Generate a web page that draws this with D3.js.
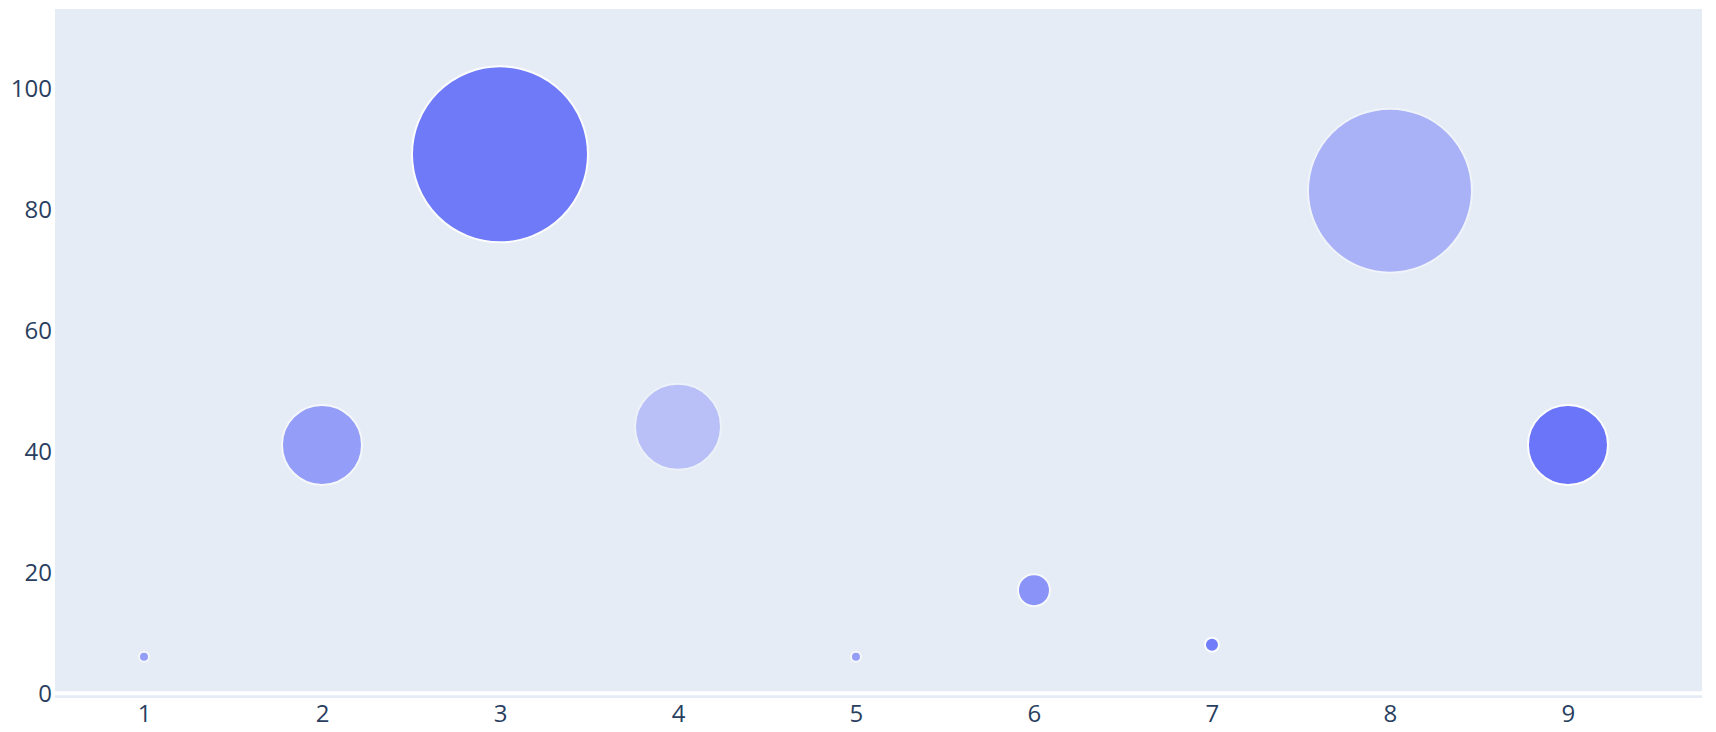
<!DOCTYPE html>
<html>
<head>
<meta charset="utf-8">
<script src="https://cdn.jsdelivr.net/npm/d3@7"></script>
<style>
  html, body { margin: 0; padding: 0; background: #ffffff; }
  svg { display: block; }
  text { font-family: "Open Sans", "Noto Sans", sans-serif; }
</style>
</head>
<body>
<svg id="chart" width="1716" height="732"></svg>
<script>
// ---- data ----
const xValues = [1, 2, 3, 4, 5, 6, 7, 8, 9];
const yValues = [6, 41, 89, 44, 6, 17, 8, 83, 41];
const markerSizes = [10, 80, 176, 86, 10, 32, 14, 164, 80];   // bubble diameters (px)
const markerOpacity = [0.62, 0.62, 0.9, 0.34, 0.62, 0.7, 0.88, 0.46, 0.94];
const xTicks = [1, 2, 3, 4, 5, 6, 7, 8, 9];
const yTicks = [0, 20, 40, 60, 80, 100];

// ---- layout ----
const W = 1716, H = 732;
const margin = { left: 55, top: 9, right: 14, bottom: 34 };
const plotW = W - margin.left - margin.right;
const plotH = H - margin.top - margin.bottom;

const svg = d3.select("#chart");
const g = svg.append("g").attr("transform", `translate(${margin.left},${margin.top})`);

const x = d3.scaleLinear().domain([0.5, 9.753]).range([0, plotW]);
const y = d3.scaleLinear().domain([-0.8, 113]).range([plotH, 0]);

g.append("rect").attr("width", plotW).attr("height", plotH).attr("fill", "#e5ecf6");

// zero line
g.append("line")
  .attr("x1", 0).attr("x2", plotW)
  .attr("y1", y(0)).attr("y2", y(0))
  .attr("stroke", "#ffffff").attr("stroke-width", 4);

// bubbles
const data = xValues.map((d, i) => ({ x: d, y: yValues[i], s: markerSizes[i], o: markerOpacity[i] }));
svg.append("defs").append("clipPath").attr("id", "clip")
  .append("rect").attr("width", plotW).attr("height", plotH);

g.append("g").attr("clip-path", "url(#clip)")
  .selectAll("circle").data(data).join("circle")
  .attr("cx", d => x(d.x))
  .attr("cy", d => y(d.y))
  .attr("r", d => d.s / 2)
  .attr("fill", "#636efa")
  .attr("stroke", "#ffffff")
  .attr("stroke-width", 2)
  .attr("opacity", d => d.o);

// axes
const xAxis = d3.axisBottom(x).tickValues(xTicks).tickSize(0).tickPadding(0).tickFormat(d3.format("d"));
const xa = g.append("g").attr("transform", `translate(0,${plotH})`).call(xAxis);
xa.select(".domain").remove();
xa.selectAll("text")
  .attr("y", 24).attr("dy", 0)
  .attr("fill", "#2a3f5f").style("font-size", "24px");

const yAxis = d3.axisLeft(y).tickValues(yTicks).tickSize(0).tickPadding(3).tickFormat(d3.format("d"));
const ya = g.append("g").call(yAxis);
ya.select(".domain").remove();
ya.selectAll("text")
  .attr("dy", "0.35em")
  .attr("fill", "#2a3f5f").style("font-size", "24px");
</script>
</body>
</html>
